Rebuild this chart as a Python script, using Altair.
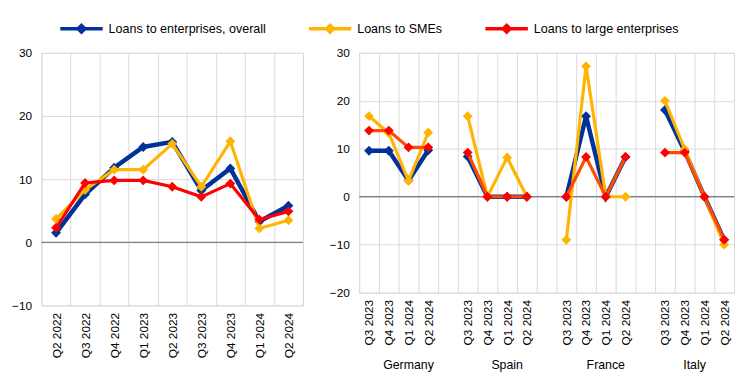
import altair as alt
import pandas as pd

series = ["Loans to enterprises, overall", "Loans to SMEs", "Loans to large enterprises"]
colors = ["#003299", "#FFB400", "#FF0000"]
right_line_colors = ["#003299", "#FFB400", "#FF4B00"]
line_widths = [4.5, 3.2, 3.2]

# Left panel: euro area
left_quarters = ["Q2 2022", "Q3 2022", "Q4 2022", "Q1 2023", "Q2 2023",
                 "Q3 2023", "Q4 2023", "Q1 2024", "Q2 2024"]
left_overall = [1.5, 7.6, 11.8, 15.1, 15.9, 8.2, 11.7, 3.3, 5.8]
left_smes = [3.7, 8.3, 11.5, 11.5, 15.6, 8.8, 16.0, 2.2, 3.5]
left_large = [2.3, 9.4, 9.8, 9.8, 8.8, 7.2, 9.3, 3.6, 4.9]

# Right panel: countries
countries = ["Germany", "Spain", "France", "Italy"]
right_quarters = ["Q3 2023", "Q4 2023", "Q1 2024", "Q2 2024"]
germany_overall = [9.6, 9.6, 3.4, 9.7]
germany_smes = [16.8, 13.3, 3.3, 13.4]
germany_large = [13.8, 13.8, 10.3, 10.3]
spain_overall = [8.4, 0.0, 0.0, 0.0]
spain_smes = [16.8, 0.0, 8.2, 0.0]
spain_large = [9.2, 0.0, 0.0, 0.0]
france_overall = [0.0, 16.8, 0.0, 8.3]
france_smes = [-9.0, 27.2, 0.0, 0.0]
france_large = [0.0, 8.3, 0.0, 8.3]
italy_overall = [18.1, 9.5, 0.0, -9.0]
italy_smes = [20.0, 9.9, 0.0, -10.0]
italy_large = [9.2, 9.2, 0.0, -9.0]

left_ticks = [-10, 0, 10, 20, 30]
right_ticks = [-20, -10, 0, 10, 20, 30]

FONT = "Liberation Sans"
GRID = "#D9D9D9"

# ---- build tables ----
left_rows = []
for s, vals in zip(series, [left_overall, left_smes, left_large]):
    for q, v in zip(left_quarters, vals):
        left_rows.append({"quarter": q, "series": s, "value": v})
left_df = pd.DataFrame(left_rows)

right_values = {
    "Germany": [germany_overall, germany_smes, germany_large],
    "Spain": [spain_overall, spain_smes, spain_large],
    "France": [france_overall, france_smes, france_large],
    "Italy": [italy_overall, italy_smes, italy_large],
}
slots = []
for i, c in enumerate(countries):
    for q in right_quarters:
        slots.append(c + "|" + q)
    if i < len(countries) - 1:
        slots.append("gap" + str(i))

right_rows = []
for c in countries:
    for s, vals in zip(series, right_values[c]):
        for q, v in zip(right_quarters, vals):
            right_rows.append({"slot": c + "|" + q, "country": c, "series": s, "value": v})
right_df = pd.DataFrame(right_rows)

# group label positions (group spans its quarters plus following gap slot)
label_rows = []
for i, c in enumerate(countries):
    start = slots.index(c + "|" + right_quarters[0])
    end = slots.index("gap" + str(i)) + 1 if i < len(countries) - 1 else len(slots)
    label_rows.append({"country": c, "center": (start + end) / 2})
label_df = pd.DataFrame(label_rows)

color_scale = alt.Scale(domain=series, range=colors)
legend = alt.Legend(
    orient="none", legendX=17, legendY=-48, direction="horizontal", title=None,
    symbolType="M-1,0H1M0,-0.16L0.16,0L0,0.16L-0.16,0Z", symbolSize=1849,
    symbolStrokeWidth=3.5, labelFontSize=12.7, labelFont=FONT, labelColor="#000000",
    columnPadding=36, labelLimit=400, padding=0, labelOffset=4,
)


def y_enc(domain, ticks):
    return alt.Y("value:Q", scale=alt.Scale(domain=domain, nice=False, zero=False),
                 axis=alt.Axis(values=ticks, title=None, grid=True, gridColor=GRID,
                               domain=False, ticks=False, labelPadding=10,
                               labelFontSize=12, labelFont=FONT, labelColor="#000000",
                               minExtent=30, maxExtent=30))


def x_enc(field, domain, label_expr=None):
    ax = dict(title=None, labelAngle=-90, grid=True, gridColor=GRID, domain=False,
              ticks=False, tickBand="extent", labelPadding=7, labelFontSize=12,
              labelFont=FONT, labelColor="#000000")
    if label_expr:
        ax["labelExpr"] = label_expr
    return alt.X(field + ":N", scale=alt.Scale(type="band", domain=domain,
                                               paddingInner=0, paddingOuter=0),
                 axis=alt.Axis(**ax), bandPosition=0.5)


zero_df = pd.DataFrame({"value": [0]})

# ---- left panel ----
lx = x_enc("quarter", left_quarters)
ly = y_enc([-10, 30], left_ticks)
left_layers = [alt.Chart(zero_df).mark_rule(color="#808080", strokeWidth=1.3).encode(y=ly)]
for s, lc, w in zip(series, colors, line_widths):
    base = alt.Chart(left_df).transform_filter(alt.datum.series == s)
    left_layers.append(base.mark_line(strokeWidth=w).encode(
        x=lx, y=ly, color=alt.Color("series:N", scale=color_scale, legend=legend)))
    left_layers.append(base.mark_point(shape="diamond", filled=True, size=100, opacity=1).encode(
        x=lx, y=ly, color=alt.Color("series:N", scale=color_scale, legend=legend)))
left = alt.layer(*left_layers).properties(width=265, height=256)

# ---- right panel ----
rx = x_enc("slot", slots,
           "indexof(datum.label, '|') >= 0 ? split(datum.label, '|')[1] : ''")
ry = y_enc([-20, 30], right_ticks)
right_layers = [alt.Chart(zero_df).mark_rule(color="#808080", strokeWidth=1.3).encode(y=ry)]
for s, lc, w in zip(series, right_line_colors, line_widths):
    base = alt.Chart(right_df).transform_filter(alt.datum.series == s)
    right_layers.append(base.mark_line(strokeWidth=w, color=lc).encode(
        x=rx, y=ry, detail="country:N"))
    right_layers.append(base.mark_point(shape="diamond", filled=True, size=100, opacity=1).encode(
        x=rx, y=ry, color=alt.Color("series:N", scale=color_scale, legend=legend)))
right_inner = alt.layer(*right_layers)

country_labels = alt.Chart(label_df).mark_text(
    fontSize=12.5, font=FONT, color="#000000", baseline="middle", align="center").encode(
    x=alt.X("center:Q", scale=alt.Scale(domain=[0, len(slots)], nice=False, zero=False), axis=None),
    y=alt.value(316),
    text="country:N",
)
right = alt.layer(right_inner, country_labels).resolve_scale(x="independent").properties(
    width=380, height=243)

chart = alt.hconcat(left, right, spacing=24).resolve_scale(
    color="shared", y="independent", x="independent"
).properties(
    padding={"left": 3, "top": -5, "right": 0, "bottom": 0}
).configure_view(stroke=GRID).configure(font=FONT, background="white")

chart.save("out.html", embed_options={"renderer": "svg", "actions": False})
